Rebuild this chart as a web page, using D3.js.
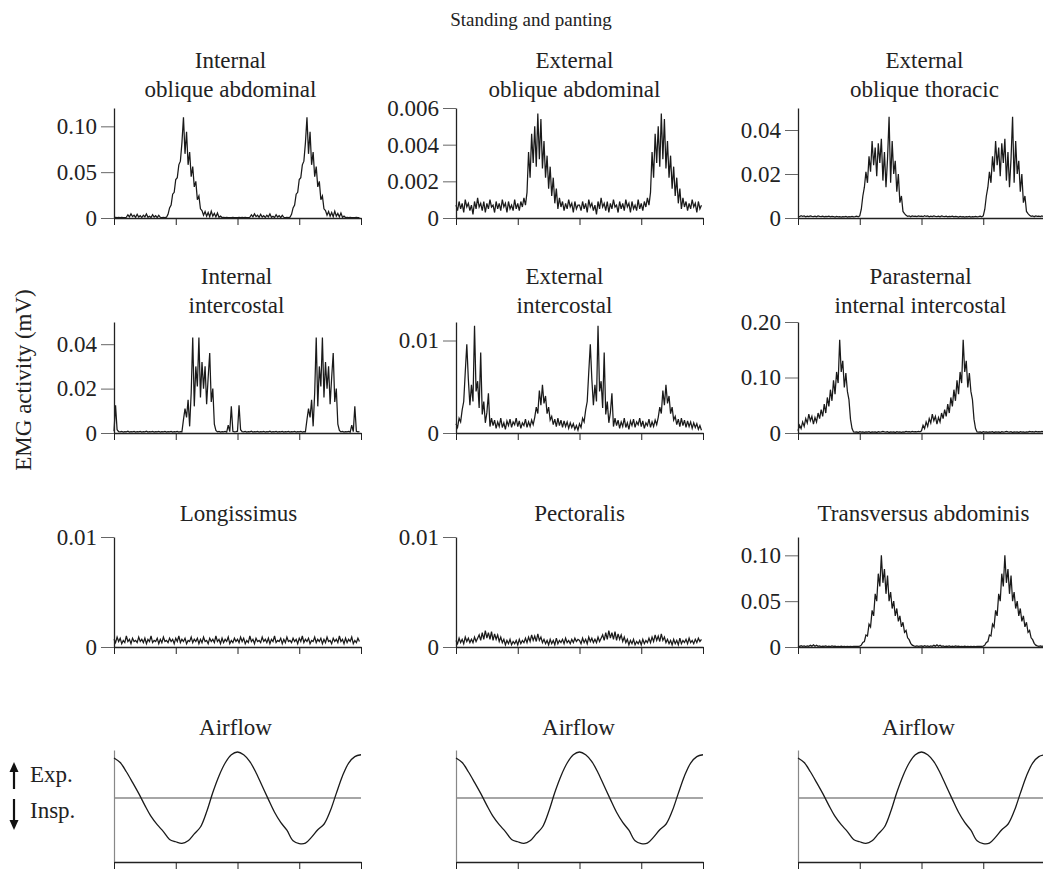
<!DOCTYPE html>
<html>
<head>
<meta charset="utf-8">
<script src="https://cdn.jsdelivr.net/npm/d3@7"></script>
<style>
  html, body { margin: 0; padding: 0; background: #fff; }
  svg { display: block; }
  text { font-family: "Liberation Serif", "Times New Roman", serif; fill: #222; }
</style>
</head>
<body>
<svg id="chart" width="1043" height="869"></svg>
<script>
// EMG amplitude (mV) across one averaged breath, 80 samples per breath.
// Each trace shows the same breath twice (two consecutive breaths).
const ioaCycle = [
  0.0005,0.0008,0.0004,0.0006,0.0003,0.0007,0.0005,0.0004,0.0008,
  0.0035,0.0012,0.0045,0.0015,0.003,0.0008,0.004,0.001,0.0025,0.0005,0.003,0.0012,
  0.0045,0.0008,0.002,0.0006,0.0035,0.001,0.0025,0.0004,0.003,0.0008,
  0.0005,0.0006,0.0004,0.0009,
  0.004,0.011,0.014,0.026,0.028,0.042,0.044,0.058,0.062,0.082,
  0.11,0.07,0.094,0.058,0.072,0.045,0.056,0.034,0.04,0.02,0.024,0.01,0.008,
  0.003,0.007,0.002,0.006,0.0015,0.0075,0.002,0.005,0.0012,0.0055,0.0008,0.002,
  0.0005,0.0007,0.0003,0.0006,0.0004,0.0005,0.0003,0.0006,0.0004,0.0005
];
const eoaCycle = [
  0.0007,0.0004,0.0009,0.0005,0.0008,0.0003,0.0010,0.0006,0.0008,0.0004,
  0.0007,0.0002,0.0009,0.0005,0.0011,0.0006,0.0008,0.0004,0.0009,0.0003,
  0.0008,0.0005,0.0010,0.0006,0.0007,0.0003,0.0009,0.0005,0.0008,0.0004,
  0.0010,0.0006,0.0008,0.0003,0.0009,0.0005,0.0007,0.0004,0.0010,0.0005,
  0.0008,0.0004,0.0009,0.0006,0.0011,0.0007,
  0.0014,0.0036,0.0022,0.0046,0.003,0.005,0.0028,0.0057,0.0032,0.0054,0.0027,
  0.0042,0.0022,0.0034,0.0016,0.0028,0.0012,0.0022,0.0008,0.0016,0.0005,0.0011,
  0.0006,0.0009,0.0004,0.0008,0.0005,0.001,0.0006,0.0008,0.0003,0.0009,0.0005,0.0007
];
const eotCycle = [
  0.0008,0.0006,0.001,0.0007,0.0009,0.0005,0.0008,0.0006,0.0009,0.0007,
  0.0006,0.0008,0.0005,0.0009,0.0007,0.0006,0.0008,0.0005,0.0007,0.0006,
  0.0008,0.0005,0.0007,0.0006,0.0004,0.0007,0.0005,0.0006,0.0004,0.0006,
  0.0005,0.0007,0.0004,0.0006,0.0005,0.0007,0.0005,0.0006,0.0008,0.0005,
  0.001,0.004,0.01,0.014,0.021,0.016,0.028,0.021,0.035,0.024,
  0.032,0.019,0.034,0.025,0.036,0.017,0.03,0.014,0.027,0.046,
  0.016,0.035,0.02,0.026,0.012,0.02,0.007,0.01,0.003,0.002,
  0.0012,0.0008,0.001,0.0006,0.0009,0.0007,0.0008,0.0006,0.0009,0.0007
];
const iicCycle = [
  0.0008,0.0125,0.0015,0.0006,
  0.0005,0.0007,0.0004,0.0006,0.0005,0.0008,0.0004,0.0006,0.0005,0.0007,
  0.0004,0.0006,0.0005,0.0007,0.0004,0.0006,0.0005,0.0008,0.0004,0.0006,
  0.0005,0.0007,0.0004,0.0006,0.0005,0.0007,0.0004,0.0006,0.0005,0.0007,
  0.0004,0.0006,0.0005,0.0007,0.0004,0.0006,0.0005,0.0007,0.0004,0.0006,0.0005,
  0.006,0.011,0.007,0.015,0.003,0.018,0.043,0.012,0.03,0.021,0.043,
  0.016,0.032,0.02,0.03,0.013,0.025,0.036,0.014,0.02,0.004,0.0012,
  0.0005,0.0007,0.0004,0.0006,0.0005,0.0007,0.0004,
  0.0035,0.0006,0.012,0.0008,0.0005,0.0006
];
const eicCycle = [
  0.001,0.0006,0.0016,0.0012,0.0025,0.0034,0.0066,0.0096,0.0058,0.003,
  0.0052,0.0034,0.0116,0.0045,0.0056,0.0027,0.0087,0.002,0.0034,0.0011,
  0.0022,0.0043,0.0007,0.0016,
  0.0008,0.0014,0.0005,0.0012,0.0007,0.0016,0.0006,0.0011,0.0004,0.0013,
  0.0008,0.0015,0.0006,0.0012,0.0009,0.0016,0.0007,0.0013,0.0005,0.0011,
  0.0008,0.0015,0.0006,0.0012,0.0007,0.0014,0.0009,
  0.0017,0.0028,0.0021,0.0046,0.003,0.0052,0.0032,0.004,0.0021,0.0028,0.0014,
  0.0018,0.0009,0.0015,0.0007,0.0016,0.0008,0.0014,0.0006,0.0013,
  0.0007,0.0012,0.0005,0.0011,0.0006,0.001,0.0004,0.0008,0.0003
];
const picCycle = [
  0.004,0.014,0.008,0.02,0.012,0.026,0.018,0.034,0.022,0.03,
  0.016,0.028,0.02,0.036,0.026,0.042,0.03,0.052,0.036,0.064,
  0.048,0.078,0.058,0.095,0.07,0.11,0.09,0.168,0.11,0.13,
  0.082,0.108,0.075,0.06,0.025,0.008,0.002,
  0.0015,0.002,0.001,0.0025,0.0015,0.002,0.001,0.002,0.0015,0.0025,
  0.001,0.002,0.0015,0.002,0.001,0.0025,0.0015,0.002,0.003,0.002,
  0.0015,0.0025,0.001,0.002,0.0015,0.002,0.001,0.0025,0.0015,0.002,
  0.001,0.002,0.0015,0.003,0.002,0.0025,0.0015,0.003,0.002,0.0025,
  0.002,0.003,0.002
];
const lonCycle = [
  0.0007,0.0004,0.0009,0.0005,0.0008,0.0003,0.0006,0.0004,0.0010,0.0005,
  0.0007,0.0003,0.0008,0.0005,0.0006,0.0004,0.0009,0.0005,0.0007,0.0004,
  0.0008,0.0003,0.0007,0.0005,0.0010,0.0004,0.0006,0.0005,0.0008,0.0003,
  0.0007,0.0004,0.0009,0.0005,0.0006,0.0004,0.0008,0.0005,0.0007,0.0003,
  0.0008,0.0005,0.0010,0.0004,0.0007,0.0005,0.0008,0.0003,0.0006,0.0005,
  0.0009,0.0004,0.0007,0.0005,0.0008,0.0003,0.0007,0.0004,0.0009,0.0005,
  0.0006,0.0003,0.0008,0.0005,0.0007,0.0004,0.0010,0.0005,0.0007,0.0003,
  0.0008,0.0004,0.0007,0.0005,0.0009,0.0003,0.0006,0.0004,0.0008,0.0005
];
const pecCycle = [
  0.0006,0.0003,0.0008,0.0004,0.0007,0.0003,0.0009,0.0005,0.0008,0.0004,
  0.0007,0.0004,0.0009,0.0005,0.0008,
  0.0011,0.0006,0.0013,0.0007,0.0015,0.0008,0.0013,0.0007,0.0014,0.0006,
  0.0012,0.0007,0.0011,0.0005,0.0009,
  0.0004,0.0007,0.0002,0.0006,0.0003,0.0007,0.0002,0.0005,0.0003,0.0006,
  0.0002,0.0007,0.0003,0.0006,0.0004,0.0008,0.0004,
  0.0009,0.0005,0.0011,0.0006,0.0010,0.0005,0.0012,0.0006,0.0009,0.0004,
  0.0007,0.0003,0.0006,0.0002,0.0007,0.0003,0.0006,0.0002,0.0008,0.0003,
  0.0006,0.0004,0.0007,0.0003,0.0008,0.0004,0.0006,0.0003,0.0007,0.0004,
  0.0008,0.0005,0.0007
];
const traCycle = [
  0.0012,0.0006,0.0015,0.0008,0.0011,0.0005,0.0013,0.0007,0.0018,0.0009,
  0.0024,0.0008,0.002,0.0007,0.0012,0.0005,0.0010,0.0006,0.0012,0.0005,
  0.0009,0.0004,0.0011,0.0006,0.0009,0.0004,0.0008,0.0005,0.0009,0.0004,
  0.0008,0.0005,0.0007,0.0004,0.0008,0.0005,0.0007,0.0006,0.0008,0.0007,
  0.001,0.002,0.005,0.006,0.013,0.012,0.025,0.022,0.04,0.034,0.058,0.05,0.08,0.066,
  0.1,0.07,0.085,0.058,0.078,0.05,0.06,0.042,0.05,0.034,0.042,
  0.028,0.034,0.022,0.027,0.016,0.018,0.01,0.008,0.004,0.002,
  0.0012,0.0008,0.0013,0.0007,0.001
];

// Airflow (arbitrary units, expiration positive), sampled every 0.1 time unit from 0 to 4
const airflow = [
  0.87,0.77,0.57,0.34,0.10,-0.16,-0.40,-0.58,-0.73,-0.90,
  -0.95,-0.985,-0.93,-0.78,-0.63,-0.30,0.12,0.48,0.76,0.94,
  1.0,0.94,0.79,0.55,0.26,-0.03,-0.31,-0.53,-0.70,-0.93,
  -0.99,-0.98,-0.85,-0.69,-0.57,-0.29,0.10,0.48,0.76,0.90,
  0.94
];

const timeTicks = [0, 1, 2, 3, 4];
const breathsShown = 2;

// Y tick values and their labels for each muscle
const ioaTicks = [0, 0.05, 0.10], ioaLabels = ["0", "0.05", "0.10"];
const eoaTicks = [0, 0.002, 0.004, 0.006], eoaLabels = ["0", "0.002", "0.004", "0.006"];
const eotTicks = [0, 0.02, 0.04], eotLabels = ["0", "0.02", "0.04"];
const iicTicks = [0, 0.02, 0.04], iicLabels = ["0", "0.02", "0.04"];
const eicTicks = [0, 0.01], eicLabels = ["0", "0.01"];
const picTicks = [0, 0.10, 0.20], picLabels = ["0", "0.10", "0.20"];
const lonTicks = [0, 0.01], lonLabels = ["0", "0.01"];
const pecTicks = [0, 0.01], pecLabels = ["0", "0.01"];
const traTicks = [0, 0.05, 0.10], traLabels = ["0", "0.05", "0.10"];

const emgPanels = [
  { title: ["Internal", "oblique abdominal"], values: ioaCycle, yMax: 0.12, ticks: ioaTicks, labels: ioaLabels, col: 0, row: 0, dx: -7 },
  { title: ["External", "oblique abdominal"], values: eoaCycle, yMax: 0.006, ticks: eoaTicks, labels: eoaLabels, col: 1, row: 0, dx: -5 },
  { title: ["External", "oblique thoracic"], values: eotCycle, yMax: 0.05, ticks: eotTicks, labels: eotLabels, col: 2, row: 0, dx: 3 },
  { title: ["Internal", "intercostal"], values: iicCycle, yMax: 0.05, ticks: iicTicks, labels: iicLabels, col: 0, row: 1, dx: -1 },
  { title: ["External", "intercostal"], values: eicCycle, yMax: 0.012, ticks: eicTicks, labels: eicLabels, col: 1, row: 1, dx: -15 },
  { title: ["Parasternal", "internal intercostal"], values: picCycle, yMax: 0.2, ticks: picTicks, labels: picLabels, col: 2, row: 1, dx: -1 },
  { title: ["Longissimus"], values: lonCycle, yMax: 0.01, ticks: lonTicks, labels: lonLabels, col: 0, row: 2, dx: 1 },
  { title: ["Pectoralis"], values: pecCycle, yMax: 0.01, ticks: pecTicks, labels: pecLabels, col: 1, row: 2, dx: 0 },
  { title: ["Transversus abdominis"], values: traCycle, yMax: 0.12, ticks: traTicks, labels: traLabels, col: 2, row: 2, dx: 2 }
];

// Layout
const colX = [114, 456, 798];
const plotW = 247;
const rows = [
  { top: 108, bottom: 218, titleY: [68, 97] },
  { top: 322, bottom: 433, titleY: [284, 313] },
  { top: 537, bottom: 647, titleY: [521] },
  { top: 750, bottom: 862, titleY: [735] }
];
const FS = 23;
const ink = "#1a1a1a";

const svg = d3.select("#chart");

function styleAxis(g, lineColor, tickColor) {
  g.select(".domain").attr("stroke", lineColor).attr("stroke-width", 1.3);
  g.selectAll(".tick line").attr("stroke", tickColor).attr("stroke-width", 1);
  g.selectAll(".tick text")
    .attr("fill", "#222")
    .style("font-family", '"Liberation Serif", "Times New Roman", serif')
    .style("font-size", FS + "px");
  g.attr("font-family", null).attr("font-size", null);
}

function drawTitle(lines, cx, ys) {
  lines.forEach((s, i) => {
    svg.append("text")
      .attr("x", cx).attr("y", ys[i])
      .attr("text-anchor", "middle")
      .style("font-size", FS + "px")
      .text(s);
  });
}

// EMG panels
emgPanels.forEach(p => {
  const x0 = colX[p.col];
  const r = rows[p.row];
  const x = d3.scaleLinear().domain([0, 4]).range([x0, x0 + plotW]);
  const y = d3.scaleLinear().domain([0, p.yMax]).range([r.bottom, r.top]);

  const series = d3.range(breathsShown).flatMap(() => p.values);
  const dt = 4 / series.length;

  svg.append("path")
    .datum(series)
    .attr("fill", "none")
    .attr("stroke", ink)
    .attr("stroke-width", 1.25)
    .attr("stroke-linejoin", "miter")
    .attr("d", d3.line().x((d, i) => x(i * dt)).y(d => y(d)));

  const gy = svg.append("g")
    .attr("transform", `translate(${x0},0)`)
    .call(d3.axisLeft(y).tickValues(p.ticks).tickFormat((d, i) => p.labels[i])
      .tickSize(13).tickPadding(4).tickSizeOuter(0));
  styleAxis(gy, "#222", "#666");

  const gx = svg.append("g")
    .attr("transform", `translate(0,${r.bottom})`)
    .call(d3.axisBottom(x).tickValues(timeTicks).tickFormat("").tickSize(7).tickSizeOuter(0));
  styleAxis(gx, "#222", "#222");

  drawTitle(p.title, x0 + plotW / 2 + p.dx, r.titleY);
});

// Airflow panels (same record under each column)
const airDx = [-2, -1, -3];
colX.forEach((x0, ci) => {
  const r = rows[3];
  const x = d3.scaleLinear().domain([0, 4]).range([x0, x0 + plotW]);
  const y = d3.scaleLinear().domain([-1.39, 1.043]).range([r.bottom, r.top]);
  const dt = 4 / (airflow.length - 1);

  const gy = svg.append("g")
    .attr("transform", `translate(${x0},0)`)
    .call(d3.axisLeft(y).tickValues([]).tickSizeOuter(0));
  gy.select(".domain").attr("stroke", "#888").attr("stroke-width", 1.2);

  svg.append("line")
    .attr("x1", x(0)).attr("x2", x(4))
    .attr("y1", y(0)).attr("y2", y(0))
    .attr("stroke", "#888").attr("stroke-width", 1.4);

  svg.append("path")
    .datum(airflow)
    .attr("fill", "none")
    .attr("stroke", ink)
    .attr("stroke-width", 1.3)
    .attr("d", d3.line().curve(d3.curveCatmullRom).x((d, i) => x(i * dt)).y(d => y(d)));

  const gx = svg.append("g")
    .attr("transform", `translate(0,${r.bottom})`)
    .call(d3.axisBottom(x).tickValues(timeTicks).tickFormat("").tickSize(7).tickSizeOuter(0));
  styleAxis(gx, "#222", "#222");

  drawTitle(["Airflow"], x0 + plotW / 2 + airDx[ci], r.titleY);
});

// Overall title and shared y label
svg.append("text")
  .attr("x", 531).attr("y", 26)
  .attr("text-anchor", "middle")
  .style("font-size", "19px")
  .text("Standing and panting");

svg.append("text")
  .attr("transform", "translate(31,380) rotate(-90)")
  .attr("text-anchor", "middle")
  .style("font-size", FS + "px")
  .text("EMG activity (mV)");

// Direction key for the airflow traces
const key = svg.append("g");
function arrow(xc, yFrom, yTo) {
  const dir = Math.sign(yTo - yFrom);
  key.append("line")
    .attr("x1", xc).attr("x2", xc)
    .attr("y1", yFrom).attr("y2", yTo - dir * 7)
    .attr("stroke", "#111").attr("stroke-width", 2.2);
  key.append("path")
    .attr("d", `M${xc - 4.5},${yTo - dir * 10} L${xc + 4.5},${yTo - dir * 10} L${xc},${yTo} Z`)
    .attr("fill", "#111");
}
arrow(14, 789, 762);
arrow(14, 799, 830);
key.append("text").attr("x", 30).attr("y", 782).style("font-size", FS + "px").text("Exp.");
key.append("text").attr("x", 30).attr("y", 818).style("font-size", FS + "px").text("Insp.");
</script>
</body>
</html>
